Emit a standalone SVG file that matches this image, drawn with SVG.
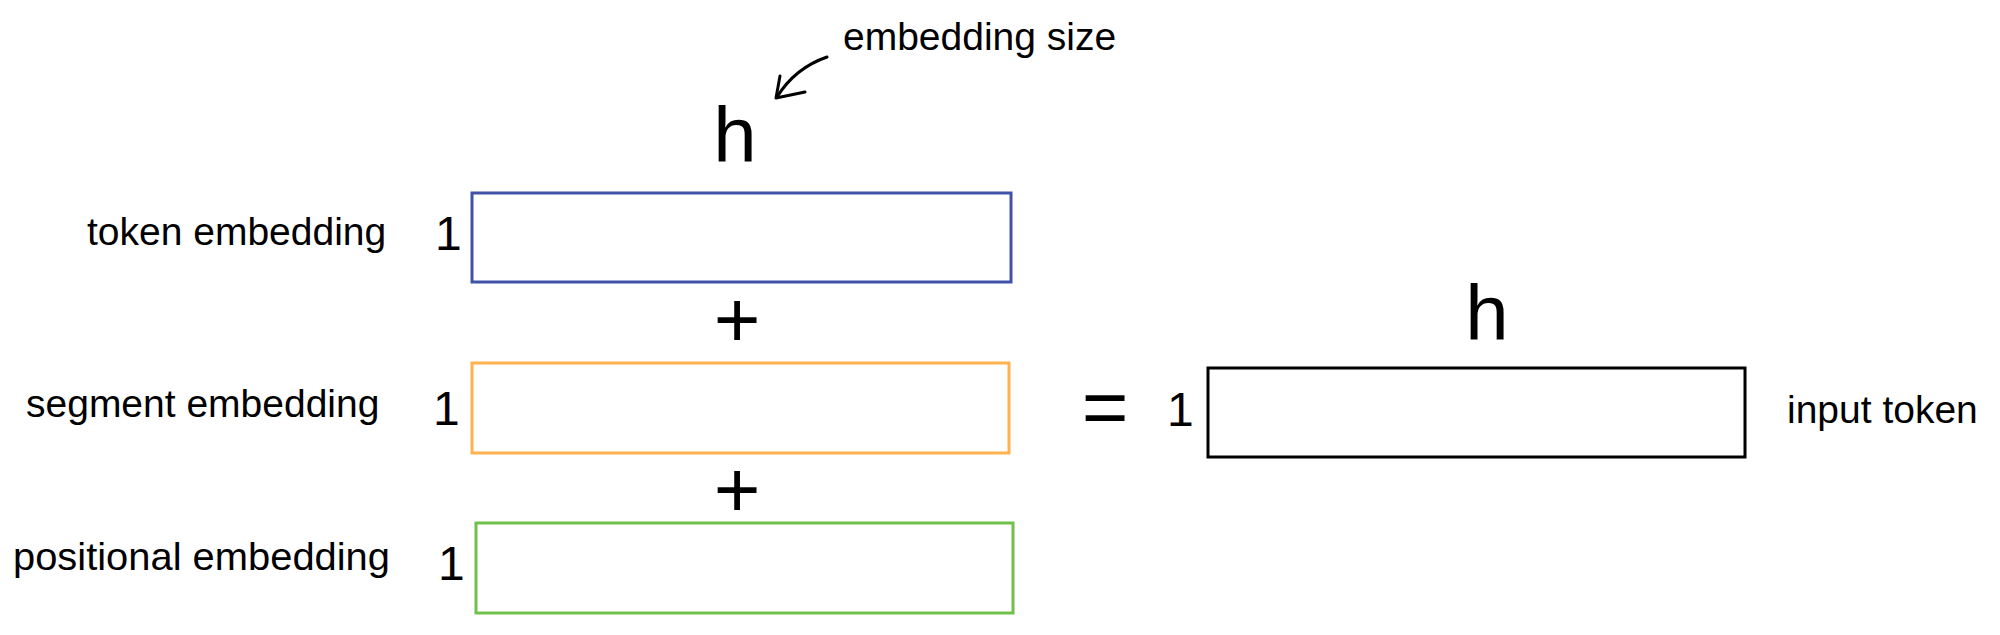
<svg xmlns="http://www.w3.org/2000/svg" width="2000" height="635" viewBox="0 0 2000 635">
<style>
text{font-family:"Liberation Sans",Arial,Helvetica,sans-serif;fill:#000}
.lbl{font-size:39px}
.one{font-size:48px}
.big{font-size:78px}
.op{font-size:80px}
.box{fill:#fff;stroke-width:3}
.ink{fill:none;stroke:#000;stroke-width:3;stroke-linecap:round;stroke-linejoin:round}
</style>
<rect width="2000" height="635" fill="#fff"/>
<g id="annotation">
<text class="lbl" x="843" y="50">embedding size</text>
<path class="ink" d="M827 57 Q795 68 777 97"/>
<path class="ink" d="M780 76 L776 98 L805 92"/>
<text class="big" x="735" y="162" text-anchor="middle">h</text>
</g>
<g id="token-embedding">
<text class="lbl" x="87" y="245">token embedding</text>
<text class="one" x="435" y="250">1</text>
<rect class="box" x="472" y="193" width="539" height="89" stroke="#4051a8"/>
</g>
<text class="op" x="737" y="347" text-anchor="middle">+</text>
<g id="segment-embedding">
<text class="lbl" x="26" y="417">segment embedding</text>
<text class="one" x="433" y="425">1</text>
<rect class="box" x="472" y="363" width="537" height="90" stroke="#ffb14e"/>
</g>
<text class="op" x="737" y="517" text-anchor="middle">+</text>
<g id="positional-embedding">
<text class="lbl" x="13" y="570" textLength="377" lengthAdjust="spacingAndGlyphs">positional embedding</text>
<text class="one" x="438" y="580">1</text>
<rect class="box" x="476" y="523" width="537" height="90" stroke="#70c04a"/>
</g>
<text class="op" x="1105" y="434" text-anchor="middle">=</text>
<g id="input-token">
<text class="big" x="1487" y="340" text-anchor="middle">h</text>
<text class="one" x="1167" y="426">1</text>
<rect class="box" x="1208" y="368" width="537" height="89" stroke="#000"/>
<text class="lbl" x="1787" y="423">input token</text>
</g>
</svg>
